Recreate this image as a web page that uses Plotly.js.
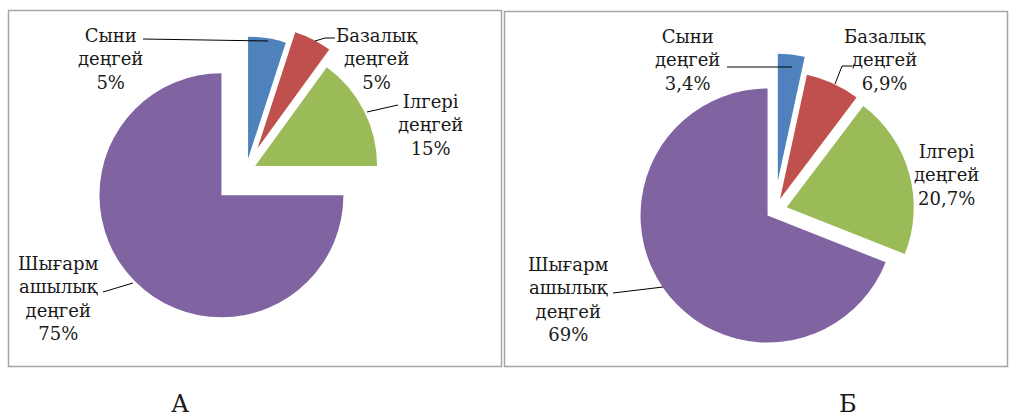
<!DOCTYPE html>
<html>
<head>
<meta charset="utf-8">
<script src="https://cdn.plot.ly/plotly-3.0.1.min.js"></script>
<style>
  html, body { margin: 0; padding: 0; background: #fff; }
  #chart { width: 1009px; height: 419px; }
</style>
</head>
<body>
<div id="chart"></div>
<script>
var labels = ['Сыни деңгей', 'Базалық деңгей', 'Ілгері деңгей', 'Шығармашылық деңгей'];
var labelLines = ['Сыни<br>деңгей', 'Базалық<br>деңгей', 'Ілгері<br>деңгей', 'Шығарм<br>ашылық<br>деңгей'];
var valuesA = [5, 5, 15, 75];
var valuesB = [3.4, 6.9, 20.7, 69];
var colors = ['#4F81BD', '#C0504D', '#9BBB59', '#8064A2'];
var panelNames = ['А', 'Б'];

var W = 1009, H = 419;
function px(x) { return x / W; }
function py(y) { return 1 - y / H; }

// pie box: centre and side in pixels
function dom(cx, cy, side) {
  return {
    x: [px(cx - side / 2), px(cx + side / 2)],
    y: [py(cy + side / 2), py(cy - side / 2)]
  };
}

function pct(v) { return String(v).replace('.', ',') + '%'; }

var pieA = {
  type: 'pie',
  labels: labels,
  values: valuesA,
  sort: false,
  direction: 'clockwise',
  rotation: 0,
  pull: [0.098, 0.205, 0.082, 0.287],
  marker: {colors: colors, line: {width: 0}},
  textinfo: 'none',
  hoverinfo: 'skip',
  showlegend: false,
  domain: dom(246.2, 170.5, 314)
};

var pieB = {
  type: 'pie',
  labels: labels,
  values: valuesB,
  sort: false,
  direction: 'clockwise',
  rotation: 0,
  pull: [0.236, 0.102, 0.099, 0.067],
  marker: {colors: colors, line: {width: 0}},
  textinfo: 'none',
  hoverinfo: 'skip',
  showlegend: false,
  domain: dom(774.6, 210.7, 314)
};

var serif = '"DejaVu Serif", serif';
var labelFont = {family: serif, size: 18, color: '#1a1a1a'};

// label centres (px) for each panel
var posA = [[110, 59], [377, 59], [430, 125], [58, 298]];
var posB = [[687, 60], [885, 60], [946, 175], [568, 299]];

var annotations = [];
function addLabels(pos, vals) {
  for (var i = 0; i < labels.length; i++) {
    annotations.push({
      xref: 'paper', yref: 'paper',
      x: px(pos[i][0]), y: py(pos[i][1]),
      xanchor: 'center', yanchor: 'middle',
      text: labelLines[i] + '<br>' + pct(vals[i]),
      showarrow: false, align: 'center',
      font: labelFont
    });
  }
}
addLabels(posA, valuesA);
addLabels(posB, valuesB);

annotations.push({
  xref: 'paper', yref: 'paper', x: px(180), y: py(404),
  xanchor: 'center', yanchor: 'middle', showarrow: false,
  text: panelNames[0], font: {family: serif, size: 24, color: '#1a1a1a'}
});
annotations.push({
  xref: 'paper', yref: 'paper', x: px(848), y: py(404),
  xanchor: 'center', yanchor: 'middle', showarrow: false,
  text: panelNames[1], font: {family: serif, size: 24, color: '#1a1a1a'}
});

function path(pts) {
  return pts.map(function (p, i) {
    return (i ? 'L' : 'M') + px(p[0]) + ',' + py(p[1]);
  }).join(' ');
}

var leaders = [
  [[143, 39], [268, 41]],
  [[335, 38], [325, 38], [315, 41]],
  [[398, 105], [367, 112]],
  [[103, 292], [133, 283]],
  [[727, 67], [792, 67]],
  [[852, 66], [842, 66], [835, 84]],
  [[613, 293], [663, 287]]
];

var shapes = [
  {type: 'rect', xref: 'paper', yref: 'paper', x0: px(8.5), x1: px(501.5), y0: py(366.5), y1: py(10.5),
   line: {color: '#A6A6A6', width: 1.5}},
  {type: 'rect', xref: 'paper', yref: 'paper', x0: px(504.5), x1: px(1007.5), y0: py(366.5), y1: py(11.5),
   line: {color: '#A6A6A6', width: 1.5}}
];
leaders.forEach(function (l) {
  shapes.push({type: 'path', xref: 'paper', yref: 'paper', path: path(l),
    line: {color: '#000', width: 1}});
});

var layout = {
  width: W, height: H,
  margin: {l: 0, r: 0, t: 0, b: 0},
  paper_bgcolor: '#fff',
  plot_bgcolor: '#fff',
  font: {family: serif},
  annotations: annotations,
  shapes: shapes
};

Plotly.newPlot('chart', [pieA, pieB], layout, {staticPlot: true});
</script>
</body>
</html>
